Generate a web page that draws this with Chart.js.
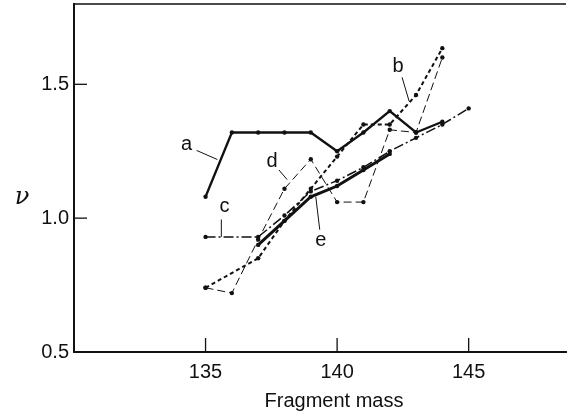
<!DOCTYPE html>
<html>
<head>
<meta charset="utf-8">
<script src="https://cdn.jsdelivr.net/npm/chart.js@4.4.1/dist/chart.umd.min.js"></script>
<style>
  html, body { margin: 0; padding: 0; background: #fff; overflow: hidden; }
  canvas { display: block; }
</style>
</head>
<body>
<canvas id="chart" width="570" height="414"></canvas>
<script>
// values (fragment mass vs nu)
const aMass = [135, 136, 137, 138, 139, 140, 141, 142, 143, 144];
const aNu = [1.08, 1.32, 1.32, 1.32, 1.32, 1.25, 1.32, 1.40, 1.32, 1.36];

const bMass = [135, 137, 138, 139, 140, 141, 142, 143, 144];
const bNu = [0.74, 0.85, 0.99, 1.11, 1.23, 1.35, 1.35, 1.46, 1.635];

const cMass = [135, 137, 138, 139, 140, 141, 142, 143, 144, 145];
const cNu = [0.93, 0.93, 1.01, 1.10, 1.14, 1.19, 1.25, 1.30, 1.35, 1.41];

const dMass = [135, 136, 137, 138, 139, 140, 141, 142, 143, 144];
const dNu = [0.74, 0.72, 0.92, 1.11, 1.22, 1.06, 1.06, 1.33, 1.32, 1.60];

const eMass = [137, 138, 139, 140, 141, 142];
const eNu = [0.90, 0.99, 1.08, 1.12, 1.18, 1.24];

const xTicks = [135, 140, 145];
const yTicks = [0.5, 1.0, 1.5];

// curve labels with their leader lines, in data units
const curveLabels = [
  { text: "a", x: 134.28, y: 1.275, from: [134.66, 1.253], to: [135.45, 1.219] },
  { text: "b", x: 142.32, y: 1.567, from: [142.47, 1.526], to: [142.74, 1.436] },
  { text: "c", x: 135.72, y: 1.043, from: [135.6, 0.995], to: [135.6, 0.93] },
  { text: "d", x: 137.53, y: 1.21, from: [137.79, 1.18], to: [138.1, 1.144] },
  { text: "e", x: 139.38, y: 0.916, from: [139.34, 0.957], to: [139.19, 1.08] },
];

const INK = "#111";
const FONT = "Liberation Sans, Arial, sans-serif";

const series = (mass, nu) => mass.map((m, i) => ({ x: m, y: nu[i] }));

const line = (label, mass, nu, width, dash) => ({
  label,
  data: series(mass, nu),
  borderColor: INK,
  backgroundColor: INK,
  borderWidth: width,
  borderDash: dash,
  pointRadius: 2.2,
  pointBorderWidth: 0,
  pointBackgroundColor: INK,
  tension: 0,
});

// frame, inward ticks, axis titles and curve letters
const decorations = {
  id: "decorations",
  afterDraw(chart) {
    const { ctx, chartArea, scales } = chart;
    const xs = scales.x, ys = scales.y;
    ctx.save();
    ctx.strokeStyle = INK;
    ctx.fillStyle = INK;

    // top edge of the frame
    ctx.lineWidth = 1.5;
    ctx.beginPath();
    ctx.moveTo(chartArea.left, chartArea.top);
    ctx.lineTo(chartArea.right, chartArea.top);
    ctx.stroke();

    // ticks pointing into the plot
    ctx.lineWidth = 1.3;
    xTicks.forEach((v) => {
      const px = xs.getPixelForValue(v);
      ctx.beginPath();
      ctx.moveTo(px, chartArea.bottom);
      ctx.lineTo(px, chartArea.bottom - 14);
      ctx.stroke();
    });
    yTicks.slice(1).forEach((v) => {
      const py = ys.getPixelForValue(v);
      ctx.beginPath();
      ctx.moveTo(chartArea.left, py);
      ctx.lineTo(chartArea.left + 13, py);
      ctx.stroke();
    });

    // axis titles
    ctx.textAlign = "center";
    ctx.textBaseline = "middle";
    ctx.font = "20px " + FONT;
    ctx.fillText("Fragment mass", 334, 401);
    ctx.font = "italic 24px DejaVu Serif, serif";
    ctx.fillText("ν", 22, 198);

    // curve letters
    ctx.font = "20px " + FONT;
    ctx.lineWidth = 1;
    curveLabels.forEach((l) => {
      ctx.fillText(l.text, xs.getPixelForValue(l.x), ys.getPixelForValue(l.y));
      ctx.beginPath();
      ctx.moveTo(xs.getPixelForValue(l.from[0]), ys.getPixelForValue(l.from[1]));
      ctx.lineTo(xs.getPixelForValue(l.to[0]), ys.getPixelForValue(l.to[1]));
      ctx.stroke();
    });
    ctx.restore();
  },
};

new Chart(document.getElementById("chart"), {
  type: "line",
  data: {
    datasets: [
      line("a", aMass, aNu, 2.3, []),
      line("b", bMass, bNu, 2, [4, 3]),
      line("c", cMass, cNu, 1.5, [10, 3, 2, 3]),
      line("d", dMass, dNu, 1, [8, 4]),
      line("e", eMass, eNu, 3, []),
    ],
  },
  options: {
    responsive: false,
    animation: false,
    devicePixelRatio: 1,
    layout: { padding: { top: 4, right: 0, left: 0, bottom: 0 } },
    plugins: { legend: { display: false }, tooltip: { enabled: false } },
    scales: {
      x: {
        type: "linear",
        min: 130,
        max: 148.7,
        afterBuildTicks: (scale) => { scale.ticks = xTicks.map((v) => ({ value: v })); },
        afterFit: (scale) => {
          scale.height = 62;
          scale.paddingLeft = 0;
          scale.paddingRight = 0;
        },
        grid: { display: false, drawTicks: false },
        border: { display: true, color: INK, width: 2 },
        ticks: { color: INK, font: { size: 20, family: FONT }, padding: 8, maxRotation: 0 },
      },
      y: {
        type: "linear",
        min: 0.5,
        max: 1.8,
        afterBuildTicks: (scale) => { scale.ticks = yTicks.map((v) => ({ value: v })); },
        afterFit: (scale) => {
          scale.width = 74;
          scale.paddingTop = 0;
          scale.paddingBottom = 0;
        },
        grid: { display: false, drawTicks: false },
        border: { display: true, color: INK, width: 2 },
        ticks: {
          color: INK,
          font: { size: 20, family: FONT },
          padding: 5,
          callback: (v) => v.toFixed(1),
        },
      },
    },
  },
  plugins: [decorations],
});
</script>
</body>
</html>
